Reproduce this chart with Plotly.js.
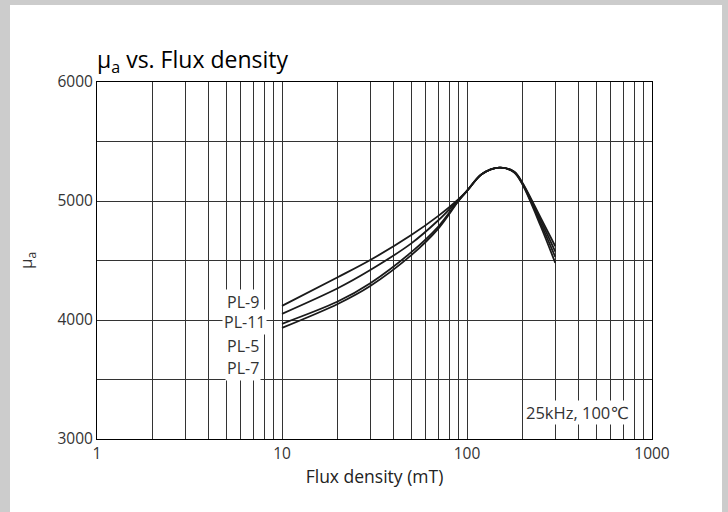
<!DOCTYPE html>
<html>
<head>
<meta charset="utf-8">
<script src="https://cdn.plot.ly/plotly-3.0.1.min.js"></script>
<style>
html,body{margin:0;padding:0;background:#cccccc;width:728px;height:512px;overflow:hidden;}
#chart{position:absolute;left:10px;top:5px;width:712px;height:507px;background:#fff;}
</style>
</head>
<body>
<div id="chart"></div>
<script>
// Flux density (mT)
const fluxDensity = [10, 20, 30, 50, 70, 90, 100, 120, 150, 180, 200, 250, 300];
// amplitude permeability per material
const pl9  = [4119, 4359, 4504, 4714, 4875, 5015, 5085, 5225, 5280, 5245, 5150, 4860, 4620];
const pl11 = [4052, 4267, 4420, 4644, 4838, 5010, 5085, 5225, 5280, 5245, 5145, 4840, 4575];
const pl5  = [3968, 4155, 4309, 4570, 4785, 5005, 5085, 5225, 5280, 5242, 5140, 4815, 4530];
const pl7  = [3934, 4135, 4286, 4545, 4768, 5000, 5085, 5225, 5280, 5240, 5135, 4790, 4480];
const seriesNames = ["PL-9", "PL-11", "PL-5", "PL-7"];
// label anchor positions (data coords)
const labelX = [6.15, 6.3, 6.15, 6.15];
const labelY = [4152, 3984, 3783, 3599];
const xTickVals = [1, 10, 100, 1000];
const yTickVals = [3000, 4000, 5000, 6000];
const yMinorVals = [3500, 4500, 5500];
const condition = "25kHz, 100℃";

const xMinor = [];
[1, 10, 100].forEach(d => { for (let k = 2; k <= 9; k++) xMinor.push(d * k); });

const font = "'Open Sans', 'DejaVu Sans', sans-serif";
const gridCol = "#333333";

const data = [pl9, pl11, pl5, pl7].map((ys, i) => ({
  x: fluxDensity, y: ys, name: seriesNames[i], type: "scatter", mode: "lines",
  line: {color: "#1a1a1a", width: 1.8, shape: "spline", smoothing: 0.9},
  hoverinfo: "skip"
}));

const annotations = seriesNames.map((n, i) => ({
  x: Math.log10(labelX[i]), y: labelY[i], xref: "x", yref: "y", text: n,
  showarrow: false, bgcolor: "#ffffff", borderpad: 1,
  font: {family: font, size: 16, color: "#333"}
}));
annotations.push({
  x: Math.log10(398), y: 3222, xref: "x", yref: "y", text: condition,
  showarrow: false, bgcolor: "#ffffff", borderpad: 0,
  font: {family: font, size: 16.5, color: "#333"}
});

const layout = {
  width: 712, height: 507,
  margin: {l: 87, r: 70, t: 76.5, b: 72.5},
  paper_bgcolor: "#ffffff", plot_bgcolor: "#ffffff",
  showlegend: false,
  title: {
    text: "μ<sub>a</sub> vs. Flux density",
    x: 87 / 712, xref: "container", xanchor: "left",
    y: 1 - 55 / 507, yref: "container", yanchor: "middle",
    font: {family: font, size: 23, color: "#000"}
  },
  xaxis: {
    type: "log", range: [0, 3],
    tickvals: xTickVals, ticktext: xTickVals.map(String),
    showgrid: true, gridcolor: gridCol, gridwidth: 1,
    minor: {tickvals: xMinor, showgrid: true, gridcolor: gridCol, gridwidth: 1, ticks: ""},
    showline: true, linecolor: "#000", linewidth: 1, mirror: true,
    ticks: "", zeroline: false,
    tickfont: {family: font, size: 15.5, color: "#333"},
    title: {text: "Flux density (mT)", standoff: 8, font: {family: font, size: 17.5, color: "#222"}}
  },
  yaxis: {
    range: [3000, 6000],
    tickvals: yTickVals,
    showgrid: true, gridcolor: gridCol, gridwidth: 1,
    minor: {tickvals: yMinorVals, showgrid: true, gridcolor: gridCol, gridwidth: 1, ticks: ""},
    showline: true, linecolor: "#000", linewidth: 1, mirror: true,
    ticks: "", ticklen: 0, zeroline: false,
    tickfont: {family: font, size: 15.5, color: "#333"},
    title: {text: "μ<sub>a</sub>", standoff: 20, font: {family: font, size: 17, color: "#333"}}
  },
  annotations: annotations
};

Plotly.newPlot("chart", data, layout, {staticPlot: true, displayModeBar: false});
</script>
</body>
</html>
